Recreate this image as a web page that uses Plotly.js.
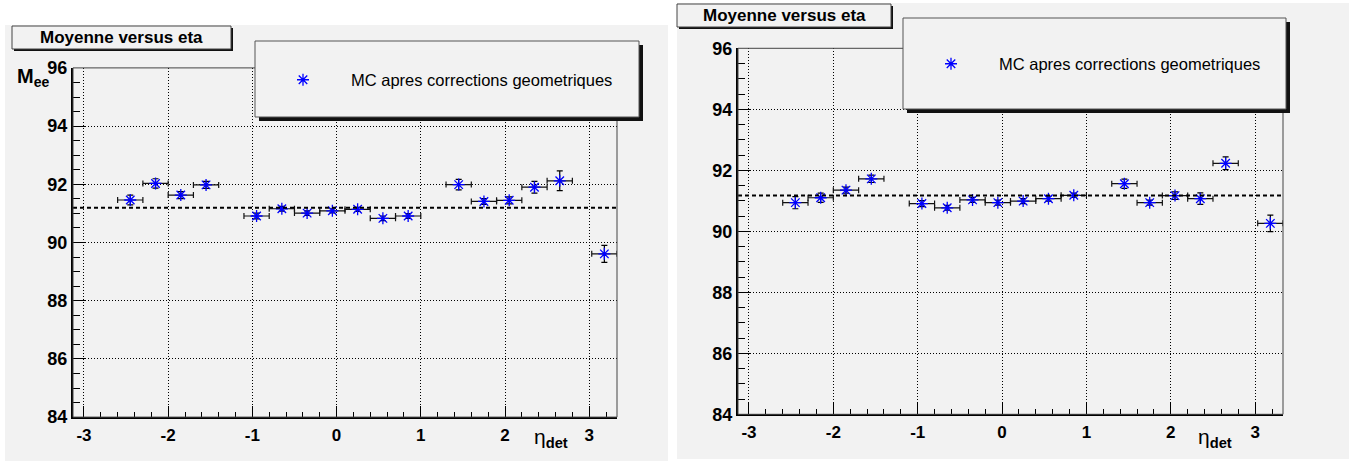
<!DOCTYPE html>
<html><head><meta charset="utf-8">
<script src="https://cdn.plot.ly/plotly-3.0.1.min.js"></script>
<style>html,body{margin:0;padding:0;background:#fff}#chart{width:1354px;height:461px}</style>
</head><body><div id="chart"></div>
<script>
// ---- data ----
const etaCenters = [-2.45,-2.15,-1.85,-1.55,-0.95,-0.65,-0.35,-0.05,0.25,0.55,0.85,1.45,1.75,2.05,2.35,2.65,3.18];
const etaHalfWidth = [0.15,0.15,0.15,0.15,0.15,0.15,0.15,0.15,0.15,0.15,0.15,0.15,0.15,0.15,0.15,0.15,0.15];
const meanLeft = [91.46,92.03,91.63,91.98,90.91,91.16,91.01,91.09,91.14,90.83,90.91,91.99,91.41,91.45,91.90,92.12,89.61];
const errLeft  = [0.17,0.16,0.12,0.12,0.10,0.08,0.08,0.07,0.07,0.08,0.08,0.18,0.10,0.12,0.20,0.34,0.29];
const meanRight = [90.94,91.10,91.35,91.72,90.91,90.77,91.03,90.94,90.99,91.07,91.18,91.56,90.94,91.17,91.07,92.23,90.26];
const errRight  = [0.20,0.15,0.10,0.12,0.10,0.08,0.08,0.08,0.08,0.08,0.07,0.15,0.08,0.12,0.19,0.21,0.27];
const fitLeft = 91.19;
const fitRight = 91.17;
const xTickVals = [-3,-2,-1,0,1,2,3];
const xTickText = ['-3','-2','-1','0','1','2','3'];
const yTickVals = [84,86,88,90,92,94,96];
const yTickText = ['84','86','88','90','92','94','96'];
const seriesName = 'MC apres corrections geometriques';
const panelTitle = 'Moyenne versus eta';

// ---- layout helpers ----
const W = 1354, H = 461;
const px = v => v / W;
const py = v => 1 - v / H;
const FONT = 'Liberation Sans, Arial, Helvetica, sans-serif';
const BG = '#f2f2f2';

function xAxis(domain, anchor) {
  return {
    domain: domain, anchor: anchor, range: [-3.13, 3.33],
    tickmode: 'array', tickvals: xTickVals, ticktext: xTickText,
    ticks: 'inside', ticklen: 11, tickwidth: 1, tickcolor: '#000',
    minor: {ticks: 'inside', dtick: 0.2, tick0: 0, ticklen: 5, tickwidth: 1, tickcolor: '#000', showgrid: false},
    showgrid: true, gridcolor: '#000', gridwidth: 1, griddash: '1px,2px',
    showline: true, linecolor: '#000', linewidth: 2, zeroline: false,
    tickfont: {family: FONT, size: 17, color: '#000', weight: 'bold'},
    ticklabelstandoff: 1,
    fixedrange: true
  };
}
function yAxis(domain, anchor) {
  return {
    domain: domain, anchor: anchor, range: [84, 96],
    tickmode: 'array', tickvals: yTickVals, ticktext: yTickText,
    ticks: 'inside', ticklen: 12, tickwidth: 1, tickcolor: '#000',
    minor: {ticks: 'inside', dtick: 0.5, tick0: 84, ticklen: 7, tickwidth: 1, tickcolor: '#000', showgrid: false},
    showgrid: true, gridcolor: '#000', gridwidth: 1, griddash: '1px,2px',
    showline: true, linecolor: '#000', linewidth: 2, zeroline: false,
    tickfont: {family: FONT, size: 18, color: '#000', weight: 'bold'},
    ticklabelstandoff: 0,
    fixedrange: true
  };
}
function trace(y, err, xa, ya, legend) {
  return {
    type: 'scatter', mode: 'markers', name: seriesName,
    x: etaCenters, y: y, xaxis: xa, yaxis: ya, legend: legend,
    marker: {symbol: 'asterisk-open', size: 10, color: '#0000ff', line: {color: '#0000ff', width: 1.3}},
    error_y: {type: 'data', array: err, visible: true, color: '#000', thickness: 1.2, width: 3},
    error_x: {type: 'data', array: etaHalfWidth, visible: true, color: '#111', thickness: 1.2, width: 3},
    showlegend: true, hoverinfo: 'skip'
  };
}
function rect(x0, y0, x1, y1, fill, line, layer) {
  return {type: 'rect', xref: 'paper', yref: 'paper', x0: px(x0), x1: px(x1), y0: py(y1), y1: py(y0),
          fillcolor: fill, line: line || {width: 0}, layer: layer || 'above'};
}

const data = [
  trace(meanLeft, errLeft, 'x', 'y', 'legend'),
  trace(meanRight, errRight, 'x2', 'y2', 'legend2')
];

const shapes = [
  rect(5, 25, 668, 461, BG, null, 'below'),
  rect(677, 3, 1349, 459, BG, null, 'below'),
  // fit lines
  {type: 'line', xref: 'x domain', yref: 'y', x0: 0, x1: 1, y0: fitLeft, y1: fitLeft, line: {color: '#000', width: 2, dash: '4px,3px'}},
  {type: 'line', xref: 'x2 domain', yref: 'y2', x0: 0, x1: 1, y0: fitRight, y1: fitRight, line: {color: '#000', width: 2, dash: '4px,3px'}},
  // frames
  {type: 'rect', xref: 'x domain', yref: 'y domain', x0: 0, x1: 1, y0: 0, y1: 1, line: {color: '#444', width: 1}, layer: 'above'},
  {type: 'rect', xref: 'x2 domain', yref: 'y2 domain', x0: 0, x1: 1, y0: 0, y1: 1, line: {color: '#444', width: 1}, layer: 'above'},
  // left title box
  rect(14, 28, 233, 51, '#111'),
  rect(12, 26, 231, 49, BG, {color: '#444', width: 1}),
  // right title box
  rect(679, 6, 893, 29, '#111'),
  rect(677, 4, 891, 27, BG, {color: '#444', width: 1}),
  // left legend box
  rect(259, 45, 643, 121, '#111'),
  rect(255, 41, 639, 117, BG, {color: '#555', width: 1}),
  // right legend box
  rect(907, 22, 1290, 113, '#111'),
  rect(903, 18, 1286, 109, BG, {color: '#555', width: 1})
];

const annotations = [
  {xref: 'paper', yref: 'paper', x: px(121.5), y: py(37.5), xanchor: 'center', yanchor: 'middle', showarrow: false,
   text: '<b>' + panelTitle + '</b>', font: {family: FONT, size: 17, color: '#000'}},
  {xref: 'paper', yref: 'paper', x: px(784), y: py(15.5), xanchor: 'center', yanchor: 'middle', showarrow: false,
   text: '<b>' + panelTitle + '</b>', font: {family: FONT, size: 17, color: '#000'}},
  {xref: 'paper', yref: 'paper', x: px(15), y: py(77), xanchor: 'left', yanchor: 'middle', showarrow: false,
   text: '<b>M<sub>ee</sub></b>', font: {family: FONT, size: 20, color: '#000'}},
  {xref: 'paper', yref: 'paper', x: px(532), y: py(438), xanchor: 'left', yanchor: 'middle', showarrow: false,
   text: 'η<sub><b>det</b></sub>', font: {family: FONT, size: 21, color: '#000'}},
  {xref: 'paper', yref: 'paper', x: px(1196), y: py(438), xanchor: 'left', yanchor: 'middle', showarrow: false,
   text: 'η<sub><b>det</b></sub>', font: {family: FONT, size: 21, color: '#000'}}
];

const legendBase = {xanchor: 'left', yanchor: 'middle', bgcolor: 'rgba(0,0,0,0)', borderwidth: 0,
  itemwidth: 86, font: {family: FONT, size: 16.5, color: '#000'}, itemclick: false, itemdoubleclick: false};

const layout = {
  width: W, height: H, margin: {l: 0, r: 0, t: 0, b: 0},
  paper_bgcolor: '#ffffff', plot_bgcolor: BG,
  font: {family: FONT, color: '#000'},
  xaxis: xAxis([px(73), px(617)], 'y'),
  yaxis: yAxis([py(417.1), py(67.9)], 'x'),
  xaxis2: xAxis([px(738), px(1283)], 'y2'),
  yaxis2: yAxis([py(414.3), py(48.3)], 'x2'),
  shapes: shapes,
  annotations: annotations,
  legend: Object.assign({x: px(255), y: py(80)}, legendBase),
  legend2: Object.assign({x: px(903), y: py(64)}, legendBase)
};

Plotly.newPlot('chart', data, layout, {staticPlot: true, displayModeBar: false});
</script>
</body></html>
